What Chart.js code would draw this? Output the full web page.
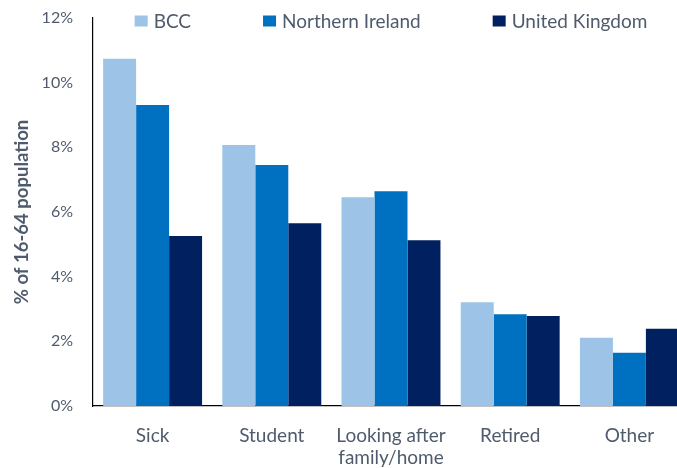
<!DOCTYPE html>
<html>
<head>
<meta charset="utf-8">
<script src="https://cdn.jsdelivr.net/npm/chart.js@4/dist/chart.umd.min.js"></script>
<style>
  html, body { margin: 0; padding: 0; background: #fff; overflow: hidden; }
  #wrap { width: 700px; height: 468px; }
</style>
</head>
<body>
<div id="wrap"><canvas id="grafik"></canvas></div>
<script>
const categories = ["Sick", "Student", ["Looking after", "family/home"], "Retired", "Other"];
const seriesNames = ["BCC", "Northern Ireland", "United Kingdom"];
const bcc = [10.74, 8.07, 6.46, 3.21, 2.11];
const northernIreland = [9.31, 7.45, 6.64, 2.84, 1.65];
const unitedKingdom = [5.26, 5.65, 5.13, 2.78, 2.39];
const yTicks = [0, 2, 4, 6, 8, 10, 12];
const yTitle = "% of 16-64 population";

const colours = ["#9DC3E6", "#0070C0", "#002060"];
const textColour = "#4f5b6c";
const fontFamily = "Lato, 'Open Sans', sans-serif";

// legend sits inside the plot, along its top edge
const topLegend = {
    id: "topLegend",
    afterDraw(chart){
        const ctx = chart.ctx;
        const area = chart.chartArea;
        const box = {w: 13, h: 11, gap: 6};
        const itemGap = 72;
        ctx.save();
        ctx.font = "19px " + fontFamily;
        ctx.textBaseline = "middle";
        const widths = chart.data.datasets.map(ds => box.w + box.gap + ctx.measureText(ds.label).width);
        const total = widths.reduce((a, b) => a + b, 0) + itemGap * (widths.length - 1);
        let x = (area.left + area.right) / 2 - total / 2;
        const y = 21;
        chart.data.datasets.forEach((ds, i) => {
            ctx.fillStyle = ds.backgroundColor;
            ctx.fillRect(x, y - box.h / 2, box.w, box.h);
            ctx.fillStyle = textColour;
            ctx.fillText(ds.label, x + box.w + box.gap, y + 1);
            x += widths[i] + itemGap;
        });
        ctx.restore();
    }
};

// rotated y axis title, centred on the plot height
const yAxisTitle = {
    id: "yAxisTitle",
    afterDraw(chart){
        const ctx = chart.ctx;
        const area = chart.chartArea;
        ctx.save();
        ctx.translate(22, (area.top + area.bottom) / 2);
        ctx.rotate(-Math.PI / 2);
        ctx.font = "bold 18.5px " + fontFamily;
        ctx.fillStyle = textColour;
        ctx.textAlign = "center";
        ctx.textBaseline = "middle";
        ctx.fillText(yTitle, 0, 0);
        ctx.restore();
    }
};

new Chart(document.getElementById("grafik"), {
    type: "bar",
    data: {
        labels: categories,
        datasets: [
            {label: seriesNames[0], data: bcc, backgroundColor: colours[0]},
            {label: seriesNames[1], data: northernIreland, backgroundColor: colours[1]},
            {label: seriesNames[2], data: unitedKingdom, backgroundColor: colours[2]}
        ]
    },
    options: {
        responsive: true,
        maintainAspectRatio: false,
        animation: false,
        devicePixelRatio: 1,
        layout: {padding: {top: 18, right: 11, left: 0, bottom: 0}},
        datasets: {bar: {categoryPercentage: 0.83, barPercentage: 1}},
        plugins: {
            legend: {display: false},
            tooltip: {enabled: false}
        },
        scales: {
            x: {
                grid: {display: false, drawTicks: false},
                border: {display: true, color: "#000", width: 1.2},
                ticks: {
                    color: textColour,
                    padding: 18,
                    maxRotation: 0,
                    autoSkip: false,
                    font: {family: fontFamily, size: 19, lineHeight: 1.2}
                },
                afterFit(scale){ scale.height = 62; }
            },
            y: {
                min: 0,
                max: 12,
                grid: {display: false, drawTicks: false},
                border: {display: true, color: "#000", width: 1.2},
                afterBuildTicks(scale){ scale.ticks = yTicks.map(v => ({value: v})); },
                ticks: {
                    color: textColour,
                    padding: 20,
                    font: {family: fontFamily, size: 16},
                    callback: v => v + "%"
                },
                afterFit(scale){
                    scale.width = 93;
                    scale.paddingTop = 0;
                    scale.paddingBottom = 0;
                }
            }
        }
    },
    plugins: [topLegend, yAxisTitle]
});
</script>
</body>
</html>
